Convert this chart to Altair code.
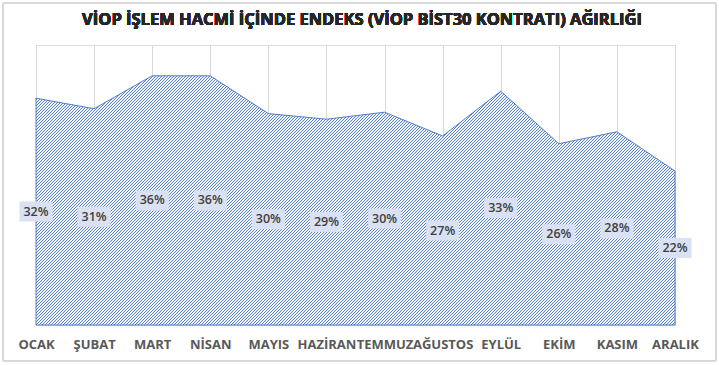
import altair as alt
import pandas as pd

months = ["OCAK", "ŞUBAT", "MART", "NİSAN", "MAYIS", "HAZİRAN",
          "TEMMUZ", "AĞUSTOS", "EYLÜL", "EKİM", "KASIM", "ARALIK"]
values = [32.4, 30.9, 35.6, 35.6, 30.2, 29.4, 30.4, 27.0, 33.4, 25.9, 27.6, 22.0]

title_text = "VİOP İŞLEM HACMİ İÇİNDE ENDEKS (VİOP BİST30 KONTRATI) AĞIRLIĞI"

df = pd.DataFrame({"month": months, "value": values})

PLOT_W = 639
PLOT_H = 280
Y_MAX = 40

# hatch fill built as a striped linear gradient (style only)
W = PLOT_W
H = max(values) / Y_MAX * PLOT_H
r = H / W
k = (1 + r) / (1 + r * r)
n = int(round((W + H) / 3.0))
frac = 0.33
stops = []
for i in range(n):
    a = i / n
    b = (i + frac) / n
    c = (i + 1) / n
    stops += [alt.GradientStop(color="#5680CC", offset=a),
              alt.GradientStop(color="#5680CC", offset=b),
              alt.GradientStop(color="#F4F7FC", offset=b),
              alt.GradientStop(color="#F4F7FC", offset=c)]
hatch = alt.Gradient(gradient="linear", stops=stops, x1=0, y1=0, x2=k, y2=k * r)

x_enc = alt.X("month:N", sort=months,
              scale=alt.Scale(type="point", padding=0),
              axis=alt.Axis(title=None, grid=True, gridColor="#D9D9D9", gridWidth=1,
                            domain=False, ticks=False, labelAngle=0,
                            labelFont="Open Sans", labelFontWeight="bold",
                            labelFontSize=13, labelColor="#595959", labelPadding=13))
y_scale = alt.Scale(domain=[0, Y_MAX], nice=False)

base = alt.Chart(df)

border = base.mark_rect(fill=None, stroke="#D9D9D9", strokeWidth=1).encode(
    x=alt.value(-33), x2=alt.value(680), y=alt.value(-42), y2=alt.value(316)
)

title = base.mark_text(font="Open Sans", fontSize=16.5, fontWeight="bold", color="#262626",
                       align="center", baseline="middle").encode(
    x=alt.value(326), y=alt.value(-25), text=alt.value(title_text)
)

area = base.mark_area(color=hatch, stroke="#4472C4", strokeWidth=1, strokeOpacity=0.9).encode(
    x=x_enc,
    y=alt.Y("value:Q", scale=y_scale, axis=None),
)

boxes = base.transform_calculate(half="datum.value / 2").mark_point(
    shape="M-1,-0.606L1,-0.606L1,0.606L-1,0.606Z", filled=True,
    color="#D9E1F2", opacity=1, size=1089
).encode(
    x=alt.X("month:N", sort=months),
    y=alt.Y("half:Q", scale=y_scale),
)

labels = base.transform_calculate(
    half="datum.value / 2",
    label="format(datum.value, '.0f') + '%'"
).mark_text(font="Open Sans", fontSize=12.5, fontWeight=600, color="#404040",
            baseline="middle", align="center").encode(
    x=alt.X("month:N", sort=months),
    y=alt.Y("half:Q", scale=y_scale),
    text="label:N",
)

chart = alt.layer(border, title, area, boxes, labels).properties(
    width=PLOT_W, height=PLOT_H,
    autosize=alt.AutoSizeParams(type="none"),
    padding={"left": 36, "top": 45, "right": 44, "bottom": 40},
).configure_view(stroke=None).configure(background="white")

chart.save("out.html", embed_options={"renderer": "svg", "actions": False})
